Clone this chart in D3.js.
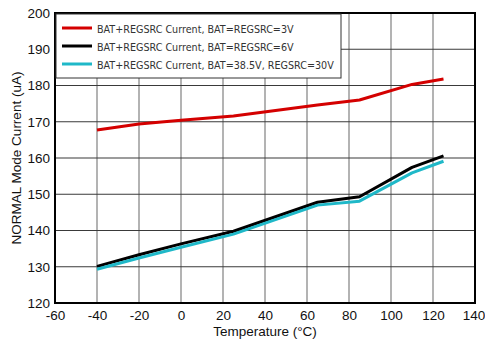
<!DOCTYPE html>
<html><head><meta charset="utf-8">
<script src="https://cdn.jsdelivr.net/npm/d3@7"></script>
<style>body{margin:0;background:#fff;} svg{display:block;}</style>
</head><body>
<script>
const temps = [-40, -20, 0, 25, 65, 85, 110, 125];
const red = [167.7, 169.4, 170.4, 171.6, 174.6, 176.0, 180.3, 181.8];
const black = [130.1, 133.3, 136.3, 139.8, 147.8, 149.3, 157.4, 160.6];
const cyan = [129.3, 132.4, 135.4, 139.0, 147.0, 148.1, 155.9, 159.1];
const seriesNames = ["BAT+REGSRC Current, BAT=REGSRC=3V", "BAT+REGSRC Current, BAT=REGSRC=6V", "BAT+REGSRC Current, BAT=38.5V, REGSRC=30V"];
const seriesColors = ["#d40000", "#000000", "#1fb8c8"];
const xTicks = [-60, -40, -20, 0, 20, 40, 60, 80, 100, 120, 140];
const yTicks = [120, 130, 140, 150, 160, 170, 180, 190, 200];

const W = 485, H = 343;
const svg = d3.select("body").append("svg").attr("width", W).attr("height", H);
const x = d3.scaleLinear().domain([-60, 140]).range([55, 475]);
const y = d3.scaleLinear().domain([120, 200]).range([303, 13]);

// grid
svg.append("g").selectAll("line").data(xTicks).join("line")
  .attr("x1", d => x(d)).attr("x2", d => x(d)).attr("y1", y(200)).attr("y2", y(120))
  .attr("stroke", "#8a8a8a").attr("stroke-width", 1.3);
svg.append("g").selectAll("line").data(yTicks).join("line")
  .attr("x1", x(-60)).attr("x2", x(140)).attr("y1", d => y(d)).attr("y2", d => y(d))
  .attr("stroke", "#3a3a3a").attr("stroke-width", 1.1);

// axes
const fontAx = "Liberation Sans, Arial, sans-serif";
const xa = svg.append("g").attr("transform", `translate(0,${y(120)})`)
  .call(d3.axisBottom(x).tickValues(xTicks).tickFormat(d => String(d)).tickSize(0).tickPadding(7));
const ya = svg.append("g").attr("transform", `translate(${x(-60)},0)`)
  .call(d3.axisLeft(y).tickValues(yTicks).tickFormat(d => String(d)).tickSize(0).tickPadding(5));
[xa, ya].forEach(a => {
  a.select(".domain").remove();
  a.selectAll("text").attr("font-family", fontAx).attr("font-size", 13.5).attr("fill", "#111");
});
xa.selectAll("text").filter(d => d === 140).attr("dx", -1.5);

// lines
const line = d3.line().x(d => x(d[0])).y(d => y(d[1]));
[red, black, cyan].forEach((vals, i) => {
  svg.append("path").datum(temps.map((t, j) => [t, vals[j]]))
    .attr("d", line).attr("fill", "none").attr("stroke", seriesColors[i])
    .attr("stroke-width", 3).attr("stroke-linejoin", "round");
});

// border
svg.append("rect").attr("x", x(-60)).attr("y", y(200)).attr("width", x(140) - x(-60)).attr("height", y(120) - y(200))
  .attr("fill", "none").attr("stroke", "#000").attr("stroke-width", 2);

// legend
const lg = svg.append("g");
lg.append("rect").attr("x", 56).attr("y", 14).attr("width", 285).attr("height", 64)
  .attr("fill", "#fff").attr("stroke", "#333").attr("stroke-width", 1);
const texts = [];
seriesNames.forEach((n, i) => {
  const yy = 28 + i * 18;
  lg.append("line").attr("x1", 62).attr("x2", 92).attr("y1", yy).attr("y2", yy)
    .attr("stroke", seriesColors[i]).attr("stroke-width", 3);
  texts.push(lg.append("text").attr("x", 97).attr("y", yy + 4.5).text(n)
    .attr("font-family", "'Liberation Sans Narrow', 'DejaVu Sans Condensed', sans-serif")
    .attr("font-size", 13).attr("fill", "#333"));
});
// fit longest entry to the reference width (~237px)
const w2 = texts[2].node().getComputedTextLength();
const fs = Math.max(9, Math.min(14, 13 * 237 / w2));
texts.forEach(t => t.attr("font-size", fs));

// titles
svg.append("text").attr("x", x(40)).attr("y", 336).attr("text-anchor", "middle")
  .attr("font-family", fontAx).attr("font-size", 13.5).attr("fill", "#111").text("Temperature (°C)");
svg.append("text").attr("transform", `translate(21,${y(160)}) rotate(-90)`).attr("text-anchor", "middle")
  .attr("font-family", fontAx).attr("font-size", 13.5).attr("fill", "#111").text("NORMAL Mode Current (uA)");
</script>
</body></html>
